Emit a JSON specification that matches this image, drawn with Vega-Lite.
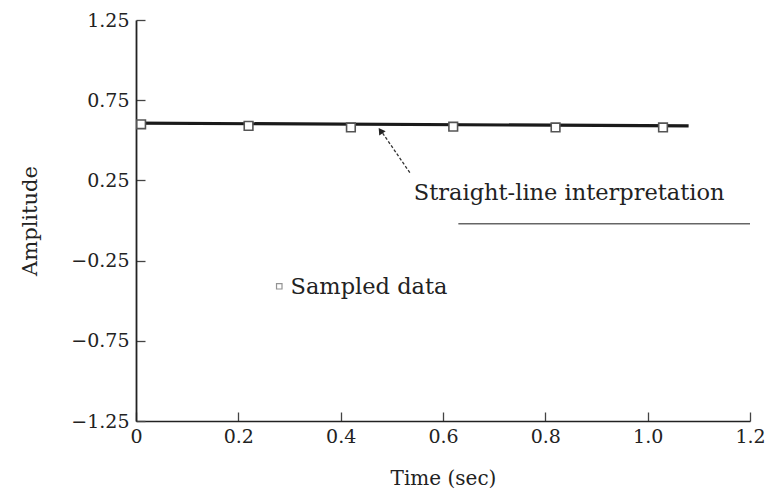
{
  "$schema": "https://vega.github.io/schema/vega-lite/v6.json",
  "width": 614,
  "height": 401,
  "autosize": {"type": "none"},
  "padding": {"left": 136, "top": 20, "right": 19, "bottom": 77},
  "background": "white",
  "config": {
    "view": {"stroke": null},
    "font": "DejaVu Serif",
    "axis": {"grid": false, "domainColor": "#222", "tickColor": "#444", "labelColor": "#222", "titleColor": "#222", "labelFont": "DejaVu Serif", "titleFont": "DejaVu Serif", "titleFontWeight": "normal"}
  },
  "layer": [
    {
      "data": {"values": [{"t": 0, "a": 0.607}, {"t": 1.08, "a": 0.59}]},
      "mark": {"type": "line", "color": "#1a1a1a", "strokeWidth": 3.2},
      "encoding": {
        "x": {"field": "t", "type": "quantitative", "scale": {"domain": [0, 1.2], "nice": false, "zero": false},
          "axis": {"title": "Time (sec)", "values": [0, 0.2, 0.4, 0.6, 0.8, 1.0, 1.2], "labelExpr": "datum.value == 0 ? '0' : format(datum.value, '.1f')", "tickSize": -9, "labelPadding": 15, "labelFontSize": 19, "titleFontSize": 20, "titlePadding": 22, "domainWidth": 1.5, "tickWidth": 1.3, "labelFlush": false}},
        "y": {"field": "a", "type": "quantitative", "scale": {"domain": [-1.25, 1.25], "nice": false, "zero": false},
          "axis": {"title": "Amplitude", "values": [-1.25, -0.75, -0.25, 0.25, 0.75, 1.25], "format": ".2f", "tickSize": -9, "labelPadding": 16, "labelFontSize": 19, "titleFontSize": 21, "titlePadding": 30, "domainWidth": 1.8, "tickWidth": 1.3, "labelFlush": false}}
      }
    },
    {
      "data": {"values": [{"t": 0.01, "a": 0.6}, {"t": 0.22, "a": 0.59}, {"t": 0.42, "a": 0.58}, {"t": 0.62, "a": 0.585}, {"t": 0.82, "a": 0.58}, {"t": 1.03, "a": 0.58}]},
      "mark": {"type": "point", "shape": "square", "size": 75, "filled": false, "fill": "white", "fillOpacity": 1, "stroke": "#555", "strokeWidth": 1.6},
      "encoding": {"x": {"field": "t", "type": "quantitative"}, "y": {"field": "a", "type": "quantitative"}}
    },
    {
      "data": {"values": [{"t": 0.63, "a": -0.02}, {"t": 1.2, "a": -0.02}]},
      "mark": {"type": "line", "color": "#666", "strokeWidth": 1.6},
      "encoding": {"x": {"field": "t", "type": "quantitative"}, "y": {"field": "a", "type": "quantitative"}}
    },
    {
      "data": {"values": [{"t": 0.537, "a": 0.29}, {"t": 0.482, "a": 0.545}]},
      "mark": {"type": "line", "color": "#333", "strokeWidth": 1.3, "strokeDash": [3, 2]},
      "encoding": {"x": {"field": "t", "type": "quantitative"}, "y": {"field": "a", "type": "quantitative"}}
    },
    {
      "data": {"values": [{"t": 0.478, "a": 0.56, "ang": 326}]},
      "mark": {"type": "point", "shape": "triangle-up", "size": 60, "filled": true, "color": "#222", "opacity": 1},
      "encoding": {"x": {"field": "t", "type": "quantitative"}, "y": {"field": "a", "type": "quantitative"}, "angle": {"field": "ang", "type": "quantitative", "scale": null}}
    },
    {
      "data": {"values": [{"t": 0.543, "a": 0.171, "label": "Straight-line interpretation"}, {"t": 0.302, "a": -0.415, "label": "Sampled data"}]},
      "mark": {"type": "text", "align": "left", "baseline": "middle", "fontSize": 22.5, "color": "#222", "font": "DejaVu Serif"},
      "encoding": {"x": {"field": "t", "type": "quantitative"}, "y": {"field": "a", "type": "quantitative"}, "text": {"field": "label"}}
    },
    {
      "data": {"values": [{"t": 0.28, "a": -0.41}]},
      "mark": {"type": "point", "shape": "square", "size": 30, "filled": false, "stroke": "#666", "strokeWidth": 1.2},
      "encoding": {"x": {"field": "t", "type": "quantitative"}, "y": {"field": "a", "type": "quantitative"}}
    }
  ]
}
